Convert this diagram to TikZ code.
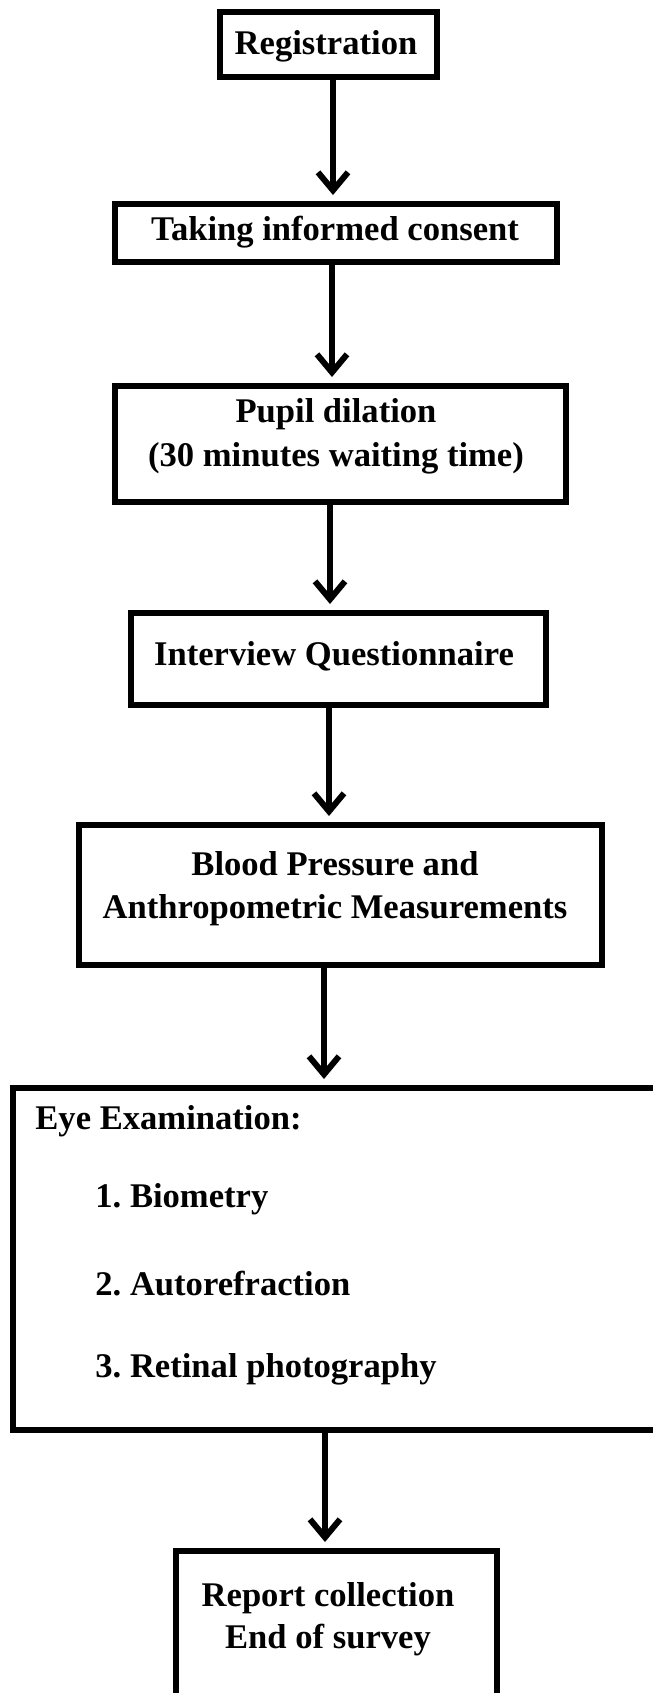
\documentclass[tikz,border=0pt]{standalone}
\usepackage{fontspec}
\setmainfont{Liberation Serif}
\usetikzlibrary{arrows.meta,calc}
\frenchspacing
\tikzset{
  box/.style={draw=black, line width=3pt, rectangle, inner sep=0pt, outer sep=0pt, fill=none},
  txt/.style={inner sep=0pt, font=\fontsize{17.3}{22}\selectfont\bfseries, align=center},
  arr/.style={draw=black, line width=3pt, -{Straight Barb[length=9pt,width=15pt,line width=3pt]}, shorten >=4.5pt}
}
\begin{document}
\begin{tikzpicture}[x=0.5pt,y=-0.5pt]
\useasboundingbox (0,0) rectangle (653,1693);
\clip (0,0) rectangle (653,1693);
% boxes
\node[box, minimum width=108.5pt, minimum height=32.5pt] (reg) at (328.5,44.5) {};
\node[box, minimum width=221pt, minimum height=29pt] (take) at (336,233) {};
\node[box, minimum width=225.5pt, minimum height=58pt] (pupil) at (340.5,444) {};
\node[box, minimum width=207.5pt, minimum height=46pt] (inter) at (338.5,659) {};
\node[box, minimum width=261.5pt, minimum height=70pt] (blood) at (340.5,895) {};
\node[box, minimum width=343.5pt, minimum height=171pt] (eye) at (356.5,1259) {};
\node[box, minimum width=160.5pt, minimum height=104.5pt] (report) at (336.5,1655.5) {};
% texts
\node[txt] (treg) at (326,46) {Registration};
\node[txt] (ttake) at (335,232) {Taking informed consent};
\node[txt] (tpupil) at (336,436) {Pupil dilation\\(30 minutes waiting time)};
\node[txt] (tinter) at (334,656) {Interview Questionnaire};
\node[txt, font=\fontsize{17.3}{21.5}\selectfont\bfseries] (tblood) at (335,889) {Blood Pressure and\\Anthropometric Measurements};
\node[txt, anchor=west] (teye) at (35,1121) {Eye Examination:};
\node[txt, anchor=west] (tbio) at (95,1199) {1. Biometry};
\node[txt, anchor=west] (tauto) at (95,1284) {2. Autorefraction};
\node[txt, anchor=west] (tret) at (95,1369) {3. Retinal photography};
\node[txt, font=\fontsize{17.3}{21}\selectfont\bfseries] (treport) at (328,1619) {Report collection\\End of survey};
% arrows
\draw[arr] ($(reg.south)+(4.5,0)$) -- ($(take.north)+(-3,0)$);
\draw[arr] ($(take.south)+(-4,0)$) -- ($(pupil.north)+(-8.5,0)$);
\draw[arr] ($(pupil.south)+(-10.5,0)$) -- ($(inter.north)+(-8.5,0)$);
\draw[arr] ($(inter.south)+(-9.5,0)$) -- ($(blood.north)+(-11.5,0)$);
\draw[arr] ($(blood.south)+(-16.5,0)$) -- ($(eye.north)+(-32.5,0)$);
\draw[arr] ($(eye.south)+(-31.5,0)$) -- ($(report.north)+(-11.5,0)$);
\end{tikzpicture}
\end{document}
